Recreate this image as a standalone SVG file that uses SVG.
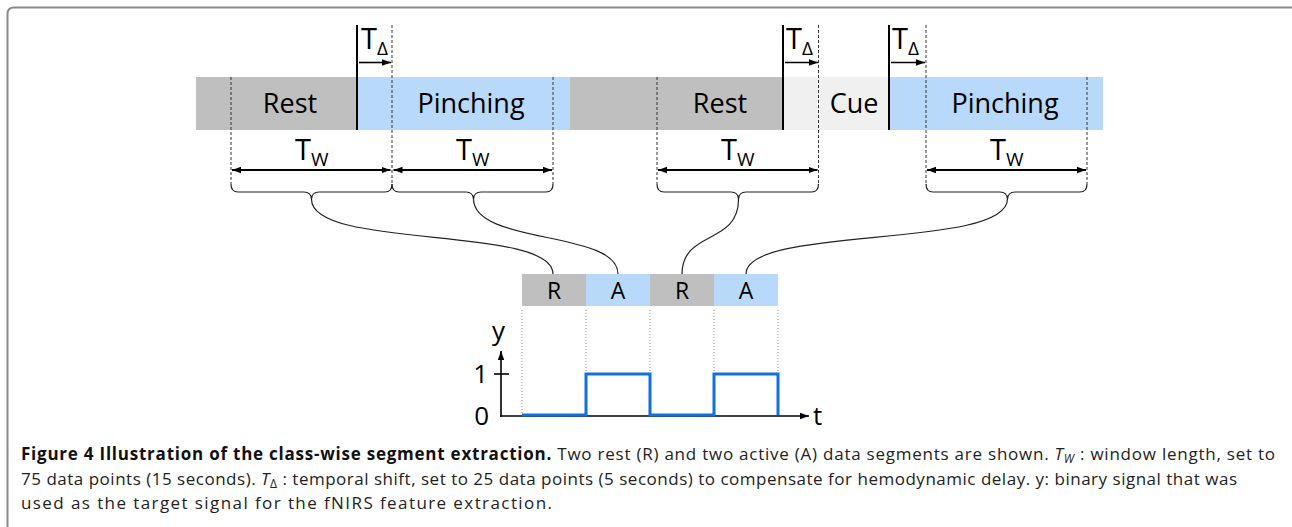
<svg xmlns="http://www.w3.org/2000/svg" width="1292" height="527" viewBox="0 0 1292 527">
<style>
  .lbl { font-family: "Open Sans", "Liberation Sans", sans-serif; fill: #000; }
  .big { font-size: 27px; }
  .tt { font-size: 29px; }
  .sub { font-size: 19px; }
  .small { font-size: 23px; }
  .ax { font-size: 26px; }
  .dash { stroke: #333; stroke-width: 1; stroke-dasharray: 3,2; fill: none; }
  .dot { stroke: #888; stroke-width: 1; stroke-dasharray: 1,2; fill: none; }
  .brace { stroke: #222; stroke-width: 1.2; fill: none; }
  .conn { stroke: #222; stroke-width: 1.2; fill: none; }
  .bound { stroke: #000; stroke-width: 2; }
  .cap { font-family: "Open Sans", "Liberation Sans", sans-serif; font-size: 17px; fill: #222; }
  .gray { fill: #bfbfbf; }
  .blue { fill: #b9d9fb; }
  .cue { fill: #f0f0f0; }
</style>
<defs>
  <marker id="ah" markerWidth="10" markerHeight="8" refX="9" refY="4" orient="auto" markerUnits="userSpaceOnUse">
    <path d="M0,0.8 L9,4 L0,7.2 z" fill="#000"/>
  </marker>
  <marker id="ahs" markerWidth="10" markerHeight="8" refX="9" refY="4" orient="auto-start-reverse" markerUnits="userSpaceOnUse">
    <path d="M0,0.8 L9,4 L0,7.2 z" fill="#000"/>
  </marker>
</defs>
<rect width="1292" height="527" fill="#fff"/>
<path d="M7.5,527 L7.5,14 Q7.5,7.5 14,7.5 L1292,7.5" stroke="#8a8a8a" stroke-width="2" fill="none"/>

<g id="timeline">
  <rect class="gray" x="196" y="77" width="161" height="53"/>
  <rect class="blue" x="357" y="77" width="213" height="53"/>
  <rect class="gray" x="570" y="77" width="213" height="53"/>
  <rect class="cue" x="783" y="77" width="106" height="53"/>
  <rect class="blue" x="889" y="77" width="214" height="53"/>
  <text class="lbl big" x="290" y="113" text-anchor="middle">Rest</text>
  <text class="lbl big" x="471" y="113" text-anchor="middle">Pinching</text>
  <text class="lbl big" x="720" y="113" text-anchor="middle">Rest</text>
  <text class="lbl big" x="854" y="113" text-anchor="middle">Cue</text>
  <text class="lbl big" x="1005" y="113" text-anchor="middle">Pinching</text>
  <line class="bound" x1="357" y1="25" x2="357" y2="130"/>
  <line class="bound" x1="783" y1="25" x2="783" y2="130"/>
  <line class="bound" x1="889" y1="25" x2="889" y2="130"/>
</g>

<g id="shifts">
  <text class="lbl tt" x="361" y="49">T<tspan class="sub" dy="6">Δ</tspan></text>
  <line x1="359" y1="62.5" x2="391" y2="62.5" stroke="#000" stroke-width="1.6" marker-end="url(#ah)"/>
  <text class="lbl tt" x="786" y="49">T<tspan class="sub" dy="6">Δ</tspan></text>
  <line x1="785" y1="62.5" x2="818" y2="62.5" stroke="#000" stroke-width="1.6" marker-end="url(#ah)"/>
  <text class="lbl tt" x="892" y="49">T<tspan class="sub" dy="6">Δ</tspan></text>
  <line x1="891" y1="62.5" x2="925" y2="62.5" stroke="#000" stroke-width="1.6" marker-end="url(#ah)"/>
</g>

<g id="windows">
  <line class="dash" x1="231" y1="77" x2="231" y2="184"/>
  <line class="dash" x1="392" y1="25" x2="392" y2="184"/>
  <line class="dash" x1="553" y1="77" x2="553" y2="184"/>
  <line class="dash" x1="657" y1="77" x2="657" y2="184"/>
  <line class="dash" x1="818.5" y1="25" x2="818.5" y2="184"/>
  <line class="dash" x1="926" y1="25" x2="926" y2="184"/>
  <line class="dash" x1="1087" y1="77" x2="1087" y2="184"/>

  <text class="lbl tt" x="295" y="160">T<tspan class="sub" dy="6">W</tspan></text>
  <text class="lbl tt" x="456" y="160">T<tspan class="sub" dy="6">W</tspan></text>
  <text class="lbl tt" x="721" y="160">T<tspan class="sub" dy="6">W</tspan></text>
  <text class="lbl tt" x="990" y="160">T<tspan class="sub" dy="6">W</tspan></text>

  <line x1="232" y1="170" x2="390.5" y2="170" stroke="#000" stroke-width="2" marker-start="url(#ahs)" marker-end="url(#ahs)"/>
  <line x1="393.5" y1="170" x2="552" y2="170" stroke="#000" stroke-width="2" marker-start="url(#ahs)" marker-end="url(#ahs)"/>
  <line x1="658" y1="170" x2="817.5" y2="170" stroke="#000" stroke-width="2" marker-start="url(#ahs)" marker-end="url(#ahs)"/>
  <line x1="927" y1="170" x2="1086" y2="170" stroke="#000" stroke-width="2" marker-start="url(#ahs)" marker-end="url(#ahs)"/>

  <path class="brace" d="M231,184 Q231,192 238,192 L304,192 Q311,192 311.5,199 Q312,192 319,192 L385,192 Q392,192 392,184"/>
  <path class="brace" d="M392,184 Q392,192 399,192 L466,192 Q473,192 473.5,199 Q474,192 481,192 L546,192 Q553,192 553,184"/>
  <path class="brace" d="M657,184 Q657,192 664,192 L731,192 Q738,192 738.5,199 Q739,192 746,192 L811.5,192 Q818.5,192 818.5,184"/>
  <path class="brace" d="M926,184 Q926,192 933,192 L1000,192 Q1007,192 1007.5,199 Q1008,192 1015,192 L1080,192 Q1087,192 1087,184"/>
</g>

<g id="connectors">
  <path class="conn" d="M311.5,199 C311,250 553,225 553,274"/>
  <path class="conn" d="M473.5,199 C474,245 618,230 618,274"/>
  <path class="conn" d="M738.5,199 C739,245 682,230 682,274"/>
  <path class="conn" d="M1007.5,199 C1007,250 746,225 746,274"/>
</g>

<g id="segments">
  <rect class="gray" x="522" y="274" width="64" height="32"/>
  <rect class="blue" x="586" y="274" width="64" height="32"/>
  <rect class="gray" x="650" y="274" width="64" height="32"/>
  <rect class="blue" x="714" y="274" width="64" height="32"/>
  <text class="lbl small" x="554" y="299" text-anchor="middle">R</text>
  <text class="lbl small" x="618" y="299" text-anchor="middle">A</text>
  <text class="lbl small" x="682" y="299" text-anchor="middle">R</text>
  <text class="lbl small" x="746" y="299" text-anchor="middle">A</text>
</g>

<g id="plot">
  <line class="dot" x1="522" y1="310" x2="522" y2="414"/>
  <line class="dot" x1="586" y1="310" x2="586" y2="374"/>
  <line class="dot" x1="650" y1="310" x2="650" y2="374"/>
  <line class="dot" x1="714" y1="310" x2="714" y2="374"/>
  <line class="dot" x1="778" y1="310" x2="778" y2="374"/>
  <line x1="501" y1="417" x2="501" y2="351" stroke="#000" stroke-width="1.6" marker-end="url(#ah)"/>
  <line x1="500.2" y1="416" x2="809" y2="416" stroke="#000" stroke-width="1.6" marker-end="url(#ah)"/>
  <line x1="494" y1="374" x2="509" y2="374" stroke="#000" stroke-width="1.6"/>
  <polyline points="522,415 586,415 586,374 650,374 650,415 714,415 714,374 778,374 778,415" fill="none" stroke="#1270dc" stroke-width="3"/>
  <text class="lbl ax" x="492" y="340">y</text>
  <text class="lbl ax" x="488" y="383" text-anchor="end">1</text>
  <text class="lbl ax" x="489" y="425" text-anchor="end">0</text>
  <text class="lbl ax" x="813" y="425">t</text>
</g>

<g id="caption">
  <text class="cap" x="21" y="460" textLength="1254"><tspan font-weight="bold" fill="#111">Figure 4 Illustration of the class-wise segment extraction.</tspan> Two rest (R) and two active (A) data segments are shown. <tspan font-style="italic">T</tspan><tspan font-style="italic" font-size="12" dy="3">W</tspan><tspan dy="-3"> : window length, set to</tspan></text>
  <text class="cap" x="21" y="485" textLength="1216">75 data points (15 seconds). <tspan font-style="italic">T</tspan><tspan font-size="12" dy="3">Δ</tspan><tspan dy="-3"> : temporal shift, set to 25 data points (5 seconds) to compensate for hemodynamic delay. y: binary signal that was</tspan></text>
  <text class="cap" x="21" y="509" textLength="531">used as the target signal for the fNIRS feature extraction.</text>
</g>
</svg>
